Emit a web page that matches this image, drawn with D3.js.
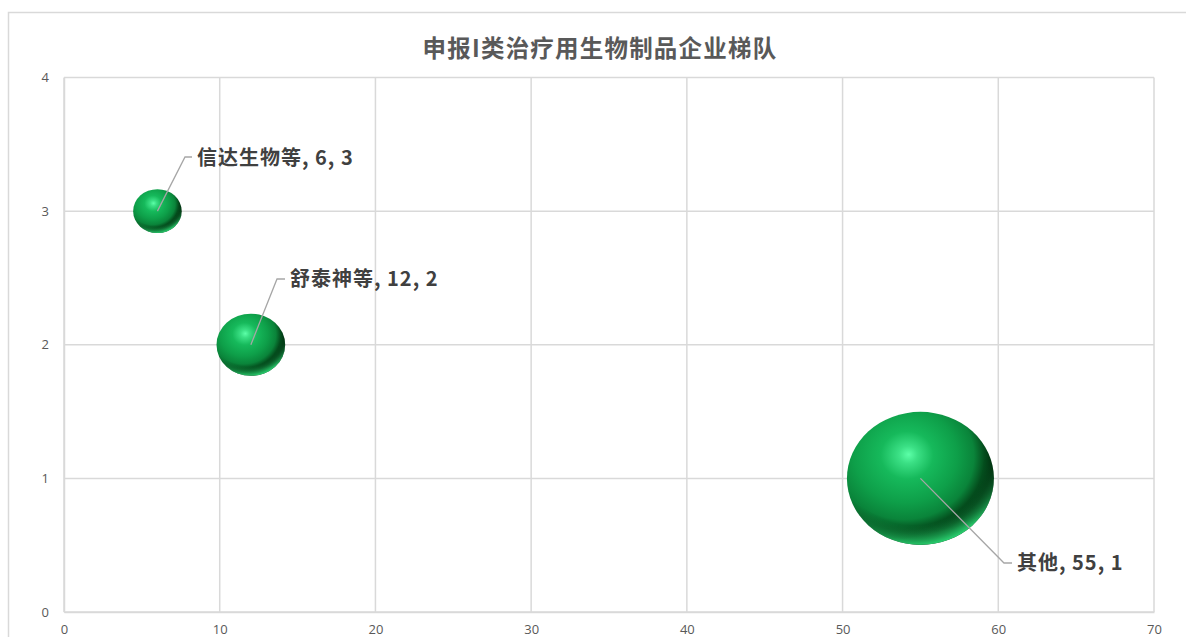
<!DOCTYPE html>
<html><head><meta charset="utf-8">
<script src="https://cdn.jsdelivr.net/npm/d3@7"></script>
<style>html,body{margin:0;padding:0;background:#fff;}</style>
</head><body>
<svg id="c" width="1186" height="637"></svg>
<script>
const names = ["信达生物等", "舒泰神等", "其他"];
const xValues = [6, 12, 55];
const yValues = [3, 2, 1];
const sizes = [6, 12, 55];
const xTicks = [0, 10, 20, 30, 40, 50, 60, 70];
const yTicks = [0, 1, 2, 3, 4];
const title = "申报I类治疗用生物制品企业梯队";

const svg = d3.select("#c");
const m = {left: 64, top: 77.5, right: 1154, bottom: 612};
const x = d3.scaleLinear().domain([0, 70]).range([m.left, m.right]);
const y = d3.scaleLinear().domain([0, 4]).range([m.bottom, m.top]);
const r = d3.scaleSqrt().domain([0, 55]).range([0, 73.5]);
const ryRatio = 0.905;
const font = "'Noto Sans CJK SC', 'Noto Sans', sans-serif";

// outer border
svg.append("rect").attr("x", 8.5).attr("y", 12.5).attr("width", 1200).attr("height", 700)
  .attr("fill", "none").attr("stroke", "#d9d9d9").attr("stroke-width", 1.5);

// defs
const defs = svg.append("defs");
const g = defs.append("radialGradient").attr("id", "ball")
  .attr("cx", "0.38").attr("cy", "0.34").attr("r", "0.64")
  .attr("fx", "0.42").attr("fy", "0.32");
[[0, "#5cffa8"], [0.1, "#3be085"], [0.28, "#16b95b"], [0.55, "#0e9f49"], [0.74, "#0a843a"], [0.86, "#044d1d"], [0.95, "#012e0e"], [1, "#01260b"]]
  .forEach(s => g.append("stop").attr("offset", s[0]).attr("stop-color", s[1]));
const rim = defs.append("radialGradient").attr("id", "rim")
  .attr("cx", "0.45").attr("cy", "0.38").attr("r", "0.64");
[[0, "#1ec060", 0], [0.74, "#1ec060", 0], [0.86, "#22c866", 0.5], [1, "#2fe07a", 1]]
  .forEach(s => rim.append("stop").attr("offset", s[0]).attr("stop-color", s[1]).attr("stop-opacity", s[2]));
const rimMask = defs.append("linearGradient").attr("id", "rimmask").attr("x1", 0).attr("y1", 0).attr("x2", 0.25).attr("y2", 1);
[[0, "#000"], [0.55, "#000"], [1, "#fff"]].forEach(s => rimMask.append("stop").attr("offset", s[0]).attr("stop-color", s[1]));
defs.append("mask").attr("id", "bm").attr("maskContentUnits", "objectBoundingBox")
  .append("rect").attr("width", 1).attr("height", 1).attr("fill", "url(#rimmask)");

// gridlines
svg.append("g").selectAll("line").data(xTicks).join("line")
  .attr("x1", d => x(d)).attr("x2", d => x(d)).attr("y1", m.top).attr("y2", m.bottom)
  .attr("stroke", "#d9d9d9").attr("stroke-width", 1.5);
svg.append("g").selectAll("line").data(yTicks).join("line")
  .attr("x1", m.left).attr("x2", m.right).attr("y1", d => y(d)).attr("y2", d => y(d))
  .attr("stroke", "#d9d9d9").attr("stroke-width", 1.5);

// axes
const xAxis = svg.append("g").attr("transform", `translate(0,${m.bottom})`)
  .call(d3.axisBottom(x).tickValues(xTicks).tickFormat(d3.format("d")).tickSize(0).tickPadding(13));
const yAxis = svg.append("g").attr("transform", `translate(${m.left},0)`)
  .call(d3.axisLeft(y).tickValues(yTicks).tickFormat(d3.format("d")).tickSize(0).tickPadding(15));
[xAxis, yAxis].forEach(a => {
  a.select(".domain").attr("stroke", "#d9d9d9").attr("stroke-width", 1.5);
  a.selectAll("text").attr("fill", "#595959").attr("font-size", 13).attr("font-family", "'Open Sans', sans-serif");
});

// title
svg.append("text").attr("x", 600).attr("y", 57).attr("text-anchor", "middle")
  .attr("font-family", font).attr("font-weight", "bold").attr("font-size", 23.5)
  .attr("letter-spacing", 1.2)
  .attr("fill", "#595959").text(title);

const data = names.map((n, i) => ({name: n, x: xValues[i], y: yValues[i], s: sizes[i]}));

// bubbles
const bg = svg.append("g");
data.forEach(d => {
  const cx = x(d.x), cy = y(d.y), rx = r(d.s), ry = r(d.s) * ryRatio;
  bg.append("ellipse").attr("cx", cx).attr("cy", cy).attr("rx", rx).attr("ry", ry).attr("fill", "url(#ball)");
  bg.append("ellipse").attr("cx", cx).attr("cy", cy).attr("rx", rx).attr("ry", ry)
    .attr("fill", "url(#rim)").attr("mask", "url(#bm)");
});

// labels with leader lines
const labelPos = [
  {tx: 197, ty: 158, kx: 185, ky: 157},
  {tx: 290, ty: 279, kx: 277, ky: 279},
  {tx: 1017, ty: 563, kx: 1004, ky: 563}
];
data.forEach((d, i) => {
  const p = labelPos[i];
  const cx = x(d.x), cy = y(d.y);
  svg.append("polyline")
    .attr("points", `${cx},${cy} ${p.kx},${p.ky} ${p.tx - 5},${p.ky}`)
    .attr("fill", "none").attr("stroke", "#a6a6a6").attr("stroke-width", 1.3);
  svg.append("text").attr("x", p.tx).attr("y", p.ty).attr("dy", "0.35em")
    .attr("font-family", font).attr("font-weight", "bold").attr("font-size", 20)
    .attr("letter-spacing", 1)
    .attr("fill", "#404040").text(`${d.name}, ${d.x}, ${d.y}`);
});
</script>
</body></html>
